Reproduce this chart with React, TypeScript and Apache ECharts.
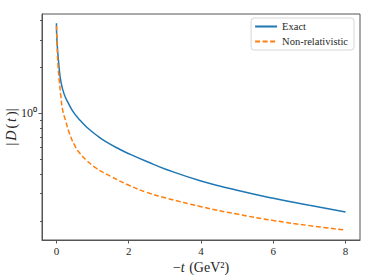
import React, { useEffect, useRef } from 'react';
import * as echarts from 'echarts';

const exactT = [0, 0.014, 0.064, 0.119, 0.21, 0.34, 0.47, 0.66, 0.84, 1.12, 1.39, 1.76, 2.02, 2.5, 3.04, 4, 5, 6, 7, 8];
const exactD = [3.84, 2.96, 2.09, 1.63, 1.335, 1.149, 1.015, 0.895, 0.811, 0.716, 0.648, 0.581, 0.543, 0.485, 0.431, 0.363, 0.316, 0.28, 0.252, 0.228];
const nonRelT = [0, 0.02, 0.04, 0.078, 0.125, 0.17, 0.25, 0.35, 0.5, 0.65, 0.85, 1.09, 1.5, 2.02, 2.5, 3.04, 4, 5, 6, 7, 8];
const nonRelD = [3.7, 2.68, 2.09, 1.63, 1.27, 1.05, 0.9, 0.75, 0.62, 0.548, 0.49, 0.441, 0.389, 0.339, 0.306, 0.281, 0.247, 0.221, 0.201, 0.186, 0.174];
const xTicks = [0, 2, 4, 6, 8];
const yMajorTicks = [1];
const yMinorTicks = [0.2, 0.3, 0.4, 0.5, 0.6, 0.7, 0.8, 0.9, 2, 3, 4];
const seriesNames = ['Exact', 'Non-relativistic'];

const FONT = 'Liberation Serif';
const TEXT = '#262626';
const AXIS = '#555';

export default function App() {
  const ref = useRef<HTMLDivElement>(null);
  useEffect(() => {
    if (!ref.current) return;
    const chart = echarts.init(ref.current, undefined, { renderer: 'svg' });
    const exact = exactT.map((t, i) => [t, exactD[i]]);
    const nonRel = nonRelT.map((t, i) => [t, nonRelD[i]]);
    chart.setOption({
      animation: false,
      backgroundColor: '#ffffff',
      grid: {
        left: 42,
        right: 14,
        top: 14,
        bottom: 40,
        containLabel: false,
        outerBoundsMode: 'none',
        show: true,
        borderColor: AXIS,
        borderWidth: 1,
        backgroundColor: 'transparent',
      },
      legend: {
        right: 20,
        top: 18,
        orient: 'vertical',
        itemWidth: 22,
        itemHeight: 10,
        itemGap: 4,
        padding: [3, 6, 3, 3],
        backgroundColor: 'rgba(255,255,255,0.8)',
        borderColor: '#d6d6d6',
        borderWidth: 1,
        borderRadius: 3,
        itemStyle: { opacity: 0 },
        textStyle: { fontFamily: FONT, fontSize: 10.5, color: TEXT },
        data: seriesNames,
      },
      xAxis: {
        type: 'value',
        min: -0.4,
        max: 8.4,
        splitLine: { show: false },
        axisLine: { show: true, onZero: false, lineStyle: { color: AXIS, width: 1 } },
        axisTick: { show: true, customValues: xTicks, length: 3.5, lineStyle: { color: AXIS } },
        axisLabel: {
          customValues: xTicks,
          margin: 5,
          fontFamily: FONT,
          fontSize: 11,
          color: TEXT,
        },
        name: '−{i|t} (GeV²)',
        nameLocation: 'middle',
        nameGap: 20,
        nameMoveOverlap: false,
        nameTextStyle: {
          fontFamily: FONT,
          fontSize: 14,
          color: TEXT,
          rich: {
            i: { fontFamily: FONT, fontSize: 14, fontStyle: 'italic', color: TEXT, padding: [0, 1, 0, 0] },
          },
        },
      },
      yAxis: [
        {
          type: 'log',
          logBase: 10,
          min: 0.15,
          max: 4.41,
          splitLine: { show: false },
          minorSplitLine: { show: false },
          axisLine: { show: true, onZero: false, lineStyle: { color: AXIS, width: 1 } },
          axisTick: { show: true, customValues: yMajorTicks, length: 3.5, lineStyle: { color: AXIS } },
          axisLabel: {
            customValues: yMajorTicks,
            margin: 5,
            fontFamily: FONT,
            fontSize: 12,
            color: TEXT,
            formatter: () => '10⁰',
          },
          name: '|{i|D}({i|t})|',
          nameLocation: 'middle',
          nameGap: 24,
          nameMoveOverlap: false,
          nameTextStyle: {
            fontFamily: FONT,
            fontSize: 14,
            color: TEXT,
            rich: {
              i: { fontFamily: FONT, fontSize: 14, fontStyle: 'italic', color: TEXT, padding: [0, 2, 0, 2] },
            },
          },
        },
        {
          type: 'log',
          logBase: 10,
          min: 0.15,
          max: 4.41,
          position: 'left',
          splitLine: { show: false },
          axisLine: { show: false, onZero: false },
          axisTick: { show: true, customValues: yMinorTicks, length: 2, lineStyle: { color: AXIS } },
          axisLabel: { show: false },
        },
      ],
      series: [
        {
          name: seriesNames[0],
          type: 'line',
          data: exact,
          symbol: 'none',
          showSymbol: false,
          smooth: 0.5,
          lineStyle: { color: '#1f77b4', width: 1.5 },
          itemStyle: { color: '#1f77b4' },
        },
        {
          name: seriesNames[1],
          type: 'line',
          data: nonRel,
          symbol: 'none',
          showSymbol: false,
          smooth: 0.5,
          lineStyle: { color: '#ff7f0e', width: 1.5, type: [5, 2.5] },
          itemStyle: { color: '#ff7f0e' },
        },
      ],
    });
    return () => chart.dispose();
  }, []);
  return (
    <div
      ref={ref}
      style={{ position: 'absolute', left: 0, top: 0, width: 374, height: 280 }}
    />
  );
}
